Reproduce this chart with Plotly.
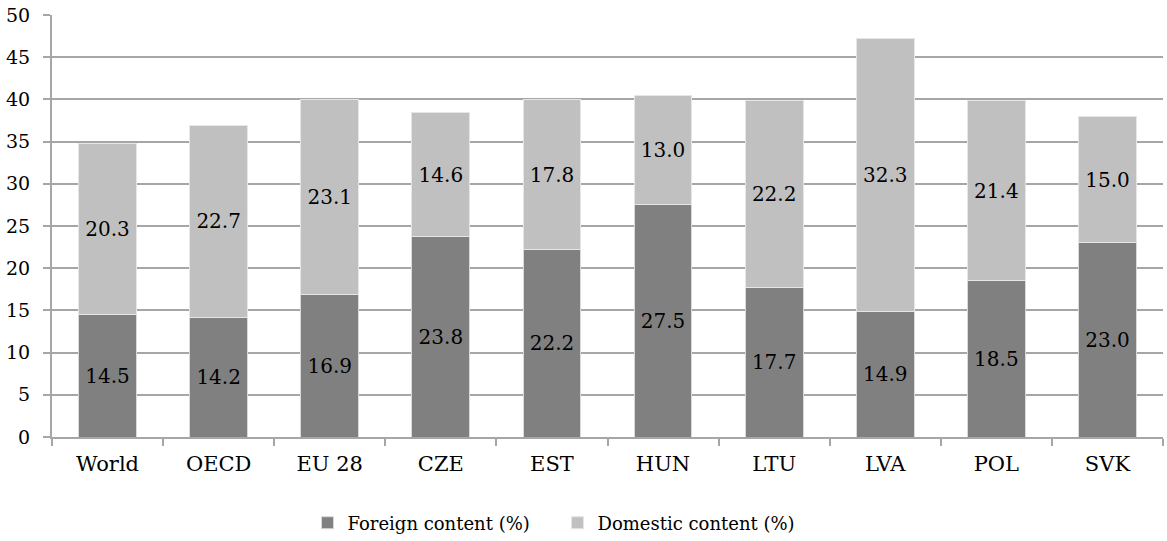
import plotly.graph_objects as go

categories = ["World", "OECD", "EU 28", "CZE", "EST", "HUN", "LTU", "LVA", "POL", "SVK"]
foreign = [14.5, 14.2, 16.9, 23.8, 22.2, 27.5, 17.7, 14.9, 18.5, 23.0]
domestic = [20.3, 22.7, 23.1, 14.6, 17.8, 13.0, 22.2, 32.3, 21.4, 15.0]

FONT = "DejaVu Serif"
GRID = "#a6a6a6"

fig = go.Figure()
fig.add_trace(go.Bar(
    x=categories, y=foreign, name="Foreign content (%)",
    marker=dict(color="#808080", line=dict(color="#d9d9d9", width=1)),
    text=[f"{v:.1f}" for v in foreign], textposition="inside",
    insidetextanchor="middle", textangle=0, constraintext="none",
    textfont=dict(family=FONT, size=20, color="black"),
    width=0.52,
))
fig.add_trace(go.Bar(
    x=categories, y=domestic, name="Domestic content (%)",
    marker=dict(color="#c0c0c0", line=dict(color="#e6e6e6", width=1)),
    text=[f"{v:.1f}" for v in domestic], textposition="inside",
    insidetextanchor="middle", textangle=0, constraintext="none",
    textfont=dict(family=FONT, size=20, color="black"),
    width=0.52,
))

fig.update_layout(
    barmode="stack",
    width=1167, height=541,
    margin=dict(l=52, r=4, t=15, b=104, autoexpand=False),
    paper_bgcolor="white", plot_bgcolor="white",
    font=dict(family=FONT, size=18, color="black"),
    showlegend=True,
    legend=dict(orientation="h", x=0.455, xanchor="center", y=-0.16, yanchor="top",
                font=dict(family=FONT, size=18), itemwidth=30, entrywidth=205,
                traceorder="normal"),
)
fig.update_xaxes(
    showline=True, linecolor=GRID, linewidth=2,
    ticks="outside", tickson="boundaries", ticklen=7, tickcolor=GRID, tickwidth=2,
    showgrid=False, tickfont=dict(family=FONT, size=21), ticklabelstandoff=7,
)
fig.update_yaxes(
    range=[0, 50], dtick=5, showgrid=True, gridcolor=GRID, gridwidth=2,
    showline=True, linecolor=GRID, linewidth=2,
    ticks="outside", ticklen=7, tickcolor=GRID, tickwidth=2,
    tickfont=dict(family=FONT, size=19), zeroline=False, ticklabelstandoff=9,
)

fig.write_html("out.html")
